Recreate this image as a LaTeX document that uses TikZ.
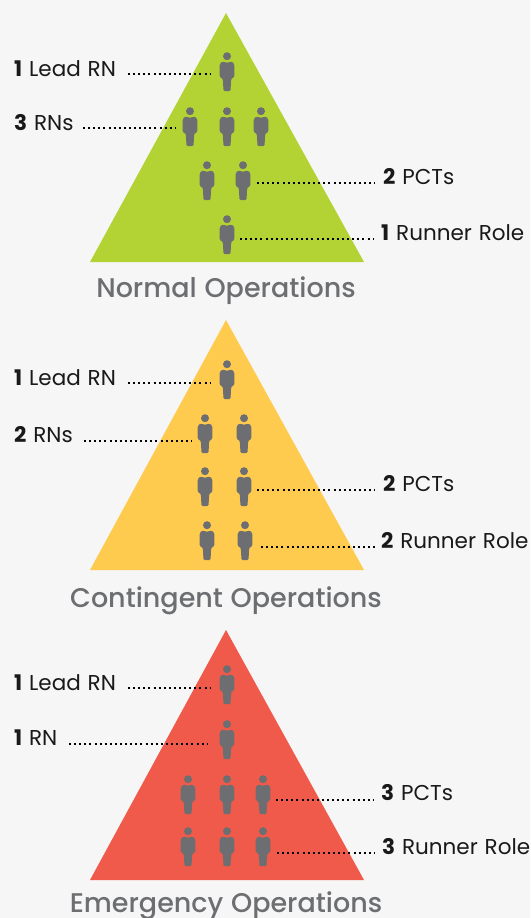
\documentclass[tikz,border=0pt]{standalone}
\usepackage{fontspec}
\setmainfont[WordSpace=1.2]{Poppins}
\newfontfamily\ttlfont[WordSpace=1.1]{Poppins Medium}
\definecolor{bgc}{HTML}{F6F6F6}
\definecolor{grn}{HTML}{B3D335}
\definecolor{ylw}{HTML}{FFCB4F}
\definecolor{rdd}{HTML}{EF5A4A}
\definecolor{gry}{HTML}{6D6E71}
\tikzset{
  x=1pt,y=-1pt,
  leader/.style={draw=black,line width=2pt,dash pattern=on 2pt off 3.1pt},
  lab/.style={anchor=base west,inner sep=0pt,font=\fontsize{21.5pt}{24pt}\selectfont,text=black!90},
  ttl/.style={anchor=base,inner sep=0pt,font=\ttlfont\fontsize{27pt}{30pt}\selectfont,text=gry},
  person/.pic={
    \fill[gry] (0,4.2) circle (4);
    \fill[gry,rounded corners=1.2pt] (-7.3,12) -- (-4.5,9.3) -- (-2,10.5) -- (2,10.5) -- (4.5,9.3) -- (7.3,12) -- (7.3,25) -- (5,26.5)
      -- (4.2,26.5) -- (3.5,39) -- (-3.5,39) -- (-4.2,26.5) -- (-5,26.5) -- (-7.3,25) -- cycle;
  }
}
\begin{document}
\begin{tikzpicture}
\useasboundingbox[fill=bgc] (0,0) rectangle (530,918);
% triangles
\fill[grn] (226,13) -- (364,262) -- (90,262) -- cycle;
\fill[ylw] (226,320) -- (364,570) -- (90,570) -- cycle;
\fill[rdd] (226,630) -- (364,880) -- (90,880) -- cycle;
% people
\foreach \px/\py in {227/52,190/107,227/107,261/107,207/161,243/161,227/215,
  227/360,205/414,244/414,205/467,244/467,207/521,245/521,
  227/665,227/720,188/775,227/775,263/775,188/827,227/827,263/827}
  \pic at (\px,\py) {person};
% labels
\node[lab] (a1) at (14,76) {\textbf{1} Lead RN};
\node[lab] (a2) at (14,130) {\textbf{3} RNs};
\node[lab] (a3) at (383,184) {\textbf{2} PCTs};
\node[lab] (a4) at (381,240) {\textbf{1} Runner Role};
\node[lab] (b1) at (14,385) {\textbf{1} Lead RN};
\node[lab] (b2) at (14,442) {\textbf{2} RNs};
\node[lab] (b3) at (383,491) {\textbf{2} PCTs};
\node[lab] (b4) at (381,548) {\textbf{2} Runner Role};
\node[lab] (c1) at (14,690) {\textbf{1} Lead RN};
\node[lab] (c2) at (14,745) {\textbf{1} RN};
\node[lab] (c3) at (381,800) {\textbf{3} PCTs};
\node[lab] (c4) at (382,854) {\textbf{3} Runner Role};
\node[ttl] (ta) at (226,297) {Normal Operations};
\node[ttl] (tb) at (226,607) {Contingent Operations};
\node[ttl] (tc) at (226,912.5) {Emergency Operations};
% leader ends
\foreach \n/\xa/\xb/\yy in {a1/128/210/74,a2/83/175/128,a3/257/375/183,a4/240/374/239,
  b1/128/210/383,b2/84/192/441,b3/257/375/490,b4/261/375/547,
  c1/128/210/688,c2/69/208/744,c3/276/374/800,c4/277/374/853}{
  \coordinate (\n s) at (\xa,\yy);
  \coordinate (\n e) at (\xb,\yy);
  \draw[leader] (\n s) -- (\n e);
}
\end{tikzpicture}
\end{document}
